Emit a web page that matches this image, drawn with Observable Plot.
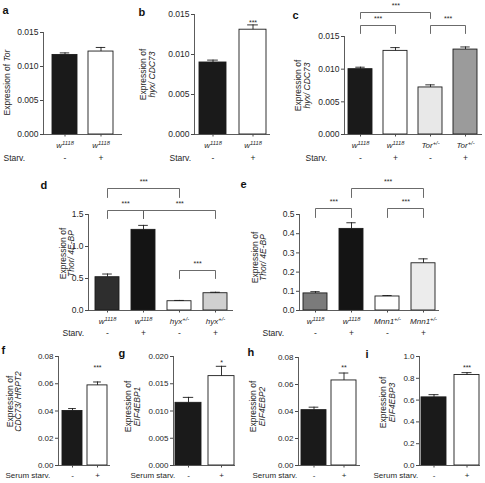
<!DOCTYPE html>
<html><head><meta charset="utf-8">
<script src="https://cdn.jsdelivr.net/npm/d3@7"></script>
<script src="https://cdn.jsdelivr.net/npm/@observablehq/plot@0.6"></script>
<style>
html,body{margin:0;padding:0;background:#fff;}
#fig{position:relative;width:485px;height:483px;overflow:hidden;background:#fff;}
#fig svg{position:absolute;overflow:visible;}
</style></head><body><div id="fig"></div>
<script>
// ---------- DATA ----------
// a
const aGenotype = ["w1118", "w1118"];
const aStarv = ["-", "+"];
const aValues = [0.0117, 0.0122];
const aSem = [0.0003, 0.0006];
const aTicks = [0, 0.005, 0.010, 0.015];
// b
const bGenotype = ["w1118", "w1118"];
const bStarv = ["-", "+"];
const bValues = [0.0090, 0.0131];
const bSem = [0.0003, 0.0006];
const bStars = ["", "***"];
const bTicks = [0, 0.005, 0.010, 0.015];
// c
const cGenotype = ["w1118", "w1118", "Tor+/-", "Tor+/-"];
const cStarv = ["-", "+", "-", "+"];
const cValues = [0.0100, 0.0128, 0.0072, 0.0130];
const cSem = [0.0003, 0.0005, 0.0004, 0.0004];
const cTicks = [0, 0.005, 0.010, 0.015];
const cBrackets = [{from: 0, to: 2, tier: "hi", label: "***"}, {from: 0, to: 1, tier: "lo", label: "***"}, {from: 2, to: 3, tier: "lo", label: "***"}];
// d
const dGenotype = ["w1118", "w1118", "hyx+/-", "hyx+/-"];
const dStarv = ["-", "+", "-", "+"];
const dValues = [0.52, 1.26, 0.145, 0.27];
const dSem = [0.05, 0.07, 0.012, 0.015];
const dTicks = [0, 0.5, 1.0, 1.5];
const dBrackets = [{from: 0, to: 2, tier: "hi", label: "***"}, {from: 0, to: 1, tier: "mid", label: "***"}, {from: 1, to: 3, tier: "mid", label: "***"}, {from: 2, to: 3, tier: "low", label: "***"}];
// e
const eGenotype = ["w1118", "w1118", "Mnn1+/-", "Mnn1+/-"];
const eStarv = ["-", "+", "-", "+"];
const eValues = [0.089, 0.425, 0.073, 0.246];
const eSem = [0.009, 0.032, 0.005, 0.023];
const eTicks = [0, 0.1, 0.2, 0.3, 0.4, 0.5];
const eBrackets = [{from: 0, to: 1, tier: "mid", label: "***"}, {from: 1, to: 3, tier: "hi", label: "***"}, {from: 2, to: 3, tier: "mid", label: "***"}];
// f
const fStarv = ["-", "+"];
const fValues = [0.040, 0.0588];
const fSem = [0.0018, 0.0025];
const fStars = ["", "***"];
const fTicks = [0, 0.02, 0.04, 0.06, 0.08];
// g
const gStarv = ["-", "+"];
const gValues = [0.0115, 0.0164];
const gSem = [0.0010, 0.0018];
const gStars = ["", "*"];
const gTicks = [0, 0.005, 0.010, 0.015, 0.020];
// h
const hStarv = ["-", "+"];
const hValues = [0.041, 0.063];
const hSem = [0.0022, 0.0055];
const hStars = ["", "**"];
const hTicks = [0, 0.02, 0.04, 0.06, 0.08];
// i
const iStarv = ["-", "+"];
const iValues = [0.625, 0.83];
const iSem = [0.025, 0.022];
const iStars = ["", "***"];
const iTicks = [0, 0.2, 0.4, 0.6, 0.8, 1.0];

// ---------- STYLE ----------
const FONT = '"Liberation Sans", Arial, Helvetica, sans-serif';
const INK = "#1c1c1c", AXIS = "#4a4a4a", BRACKET = "#5a5a5a", TEXT = "#262626";
const BLACK = "#1a1a1a", WHITE = "#ffffff";
const f3 = d3.format(".3f"), f2 = d3.format(".2f"), f1 = d3.format(".1f");

// rich text: italic / superscript segments
const RICH = {
  "w1118": [["w", 0], ["1118", 1]],
  "Tor+/-": [["Tor", 0], ["+/-", 1]],
  "hyx+/-": [["hyx", 0], ["+/-", 1]],
  "Mnn1+/-": [["Mnn1", 0], ["+/-", 1]],
  "Expression of Tor": [["Expression of ", 2], ["Tor", 3]]
};
function richify(svg) {
  d3.select(svg).selectAll("text").each(function () {
    if (this.textContent === "") { this.remove(); return; }
    const segs = RICH[this.textContent];
    if (!segs) return;
    const t = d3.select(this);
    t.text(null);
    for (const [s, kind] of segs) {
      const ts = t.append("tspan").text(s);
      if (kind === 1) ts.attr("dy", "-0.42em").attr("font-size", "72%");
      if (kind === 3) ts.attr("font-style", "italic");
    }
  });
}

function panel(cfg) {
  const [L, T, W, H] = cfg.box;
  const [x0, x1, yTop, yBot] = cfg.frame;
  const n = cfg.values.length;
  const p = cfg.pad, o = cfg.outer;
  const step = (x1 - x0) / (n - p + 2 * o);
  const bw = step * (1 - p);
  const keys = cfg.values.map((_, i) => "k" + i);
  const data = keys.map((k, i) => ({
    k, v: cfg.values[i], top: cfg.values[i] + cfg.sem[i], fill: cfg.fills[i],
    gen: cfg.genotype ? cfg.genotype[i] : "", starv: cfg.starv[i],
    star: cfg.stars ? cfg.stars[i] : ""
  }));
  const toVal = py => cfg.yMax * (yBot - py) / (yBot - yTop);
  const midY = (yTop + yBot) / 2;
  const fs = cfg.fontSize || 8.5;
  const marks = [
    Plot.barY(data, {x: "k", y: "v", fill: d => d.fill, stroke: INK, strokeWidth: 0.9}),
    Plot.ruleX(data, {x: "k", y1: "v", y2: "top", stroke: INK, strokeWidth: 0.9}),
    Plot.tickY(data, {x: "k", y: "top", stroke: INK, strokeWidth: 0.9, insetLeft: bw * 0.3, insetRight: bw * 0.3}),
    Plot.ruleY([0], {stroke: AXIS, strokeWidth: 0.9}),
    Plot.frame({anchor: "left", stroke: AXIS, strokeWidth: 0.9}),
    Plot.axisY({ticks: cfg.ticks, tickFormat: cfg.fmt, tickSize: 3, tickPadding: 2, label: null, stroke: AXIS, fontSize: fs}),
    Plot.axisX({tickSize: 2.5, tickFormat: () => "", label: null, stroke: AXIS}),
    Plot.text(data, {x: "k", text: "starv", frameAnchor: "bottom", dy: cfg.starvY - yBot, fontSize: fs}),
    Plot.text([cfg.starvLabel], {text: d => d, frameAnchor: "bottom-left", dx: cfg.starvX - x0, dy: cfg.starvY - yBot, textAnchor: "start", fontSize: fs}),
    Plot.text([cfg.letter], {text: d => d, frameAnchor: "top-left", dx: cfg.letterPos[0] - x0, dy: cfg.letterPos[1] - yTop, textAnchor: "start", lineAnchor: "bottom", fontWeight: "bold", fontSize: 11, fill: "#111"})
  ];
  if (cfg.genotype) {
    marks.push(Plot.text(data, {x: "k", text: "gen", frameAnchor: "bottom", dy: cfg.catY - yBot, fontStyle: "italic", fontSize: 8}));
  }
  if (cfg.stars) {
    marks.push(Plot.text(data.filter(d => d.star), {x: "k", text: "star", frameAnchor: "top", dy: cfg.starY - yTop, fontSize: 7}));
  }
  cfg.ylabel.forEach((line, j) => {
    marks.push(Plot.text([line], {text: d => d, frameAnchor: "left", textAnchor: "middle", rotate: -90, dx: cfg.ylabelX[j] - x0, dy: cfg.ylabelY - midY, fontStyle: cfg.ylabelItalic[j] ? "italic" : "normal", fontSize: 8.5}));
  });
  if (cfg.brackets) {
    const pts = [];
    cfg.brackets.forEach((b, j) => {
      const [topPx, legPx] = cfg.tiers[b.tier];
      pts.push({z: j, k: keys[b.from], y: toVal(legPx)}, {z: j, k: keys[b.from], y: toVal(topPx)},
               {z: j, k: keys[b.to], y: toVal(topPx)}, {z: j, k: keys[b.to], y: toVal(legPx)});
      marks.push(Plot.text([b], {x: () => keys[b.from], y: () => toVal(topPx - 7), dx: (b.to - b.from) * step / 2, text: d => d.label, fontSize: 7}));
    });
    marks.push(Plot.line(pts, {x: "k", y: "y", z: "z", stroke: BRACKET, strokeWidth: 0.9}));
  }
  const svg = Plot.plot({
    width: W, height: H,
    marginLeft: x0 - L, marginRight: L + W - x1, marginTop: yTop - T, marginBottom: T + H - yBot,
    x: {domain: keys, paddingInner: p, paddingOuter: o},
    y: {domain: [0, cfg.yMax]},
    style: {fontFamily: FONT, fontSize: "8.5px", color: TEXT, background: "transparent", overflow: "visible"},
    marks
  });
  richify(svg);
  svg.style.left = L + "px";
  svg.style.top = T + "px";
  document.getElementById("fig").appendChild(svg);
}

// ---------- LAYOUT ----------
panel({letter: "a", box: [0, 0, 135, 170], frame: [43, 122, 32, 134], yMax: 0.015, ticks: aTicks, fmt: f3,
  pad: 0.3, outer: 0.22, genotype: aGenotype, starv: aStarv, values: aValues, sem: aSem, fills: [BLACK, WHITE],
  letterPos: [2, 13], ylabel: ["Expression of Tor"], ylabelItalic: [false], ylabelX: [7], ylabelY: 82,
  catY: 147, starvLabel: "Starv.", starvX: 3, starvY: 160});
panel({letter: "b", box: [135, 0, 155, 170], frame: [194, 270, 14, 134], yMax: 0.015, ticks: bTicks, fmt: f3,
  pad: 0.33, outer: 0.1, genotype: bGenotype, starv: bStarv, values: bValues, sem: bSem, fills: [BLACK, WHITE],
  stars: bStars, starY: 20,
  letterPos: [138, 15], ylabel: ["Expression of", "hyx/ CDC73"], ylabelItalic: [false, true], ylabelX: [143, 152], ylabelY: 74,
  catY: 147, starvLabel: "Starv.", starvX: 169, starvY: 160});
panel({letter: "c", box: [290, 0, 195, 170], frame: [344, 482, 36, 134], yMax: 0.015, ticks: cTicks, fmt: f3,
  pad: 0.31, outer: 0.11, genotype: cGenotype, starv: cStarv, values: cValues, sem: cSem,
  fills: [BLACK, WHITE, "#e8e8e8", "#9b9b9b"],
  brackets: cBrackets, tiers: {hi: [12, 18], lo: [25, 33]},
  letterPos: [292, 18], ylabel: ["Expression of", "hyx/ CDC73"], ylabelItalic: [false, true], ylabelX: [298, 307], ylabelY: 85,
  catY: 147, starvLabel: "Starv.", starvX: 305, starvY: 160});
panel({letter: "d", box: [0, 170, 240, 175], frame: [88, 233, 214, 310], yMax: 1.5, ticks: dTicks, fmt: f1,
  pad: 0.34, outer: 0.17, genotype: dGenotype, starv: dStarv, values: dValues, sem: dSem,
  fills: ["#2e2e2e", "#141414", WHITE, "#d0d0d0"],
  brackets: dBrackets, tiers: {hi: [188, 197], mid: [210, 218], low: [270, 278]},
  letterPos: [40, 188], ylabel: ["Expression of", "Thor/ 4E-BP"], ylabelItalic: [false, true], ylabelX: [63, 71], ylabelY: 253,
  catY: 323, starvLabel: "Starv.", starvX: 62, starvY: 335});
panel({letter: "e", box: [240, 170, 245, 175], frame: [299, 439, 214, 310], yMax: 0.5, ticks: eTicks, fmt: f1,
  pad: 0.33, outer: 0.08, genotype: eGenotype, starv: eStarv, values: eValues, sem: eSem,
  fills: ["#7b7b7b", "#141414", WHITE, "#ececec"],
  brackets: eBrackets, tiers: {hi: [188, 197], mid: [208, 217]},
  letterPos: [240, 187], ylabel: ["Expression of", "Thor/ 4E-BP"], ylabelItalic: [false, true], ylabelX: [255, 263], ylabelY: 257,
  catY: 323, starvLabel: "Starv.", starvX: 262, starvY: 335});
panel({letter: "f", box: [0, 345, 115, 138], frame: [58, 110, 356, 465], yMax: 0.08, ticks: fTicks, fmt: f2, fontSize: 8,
  pad: 0.2, outer: 0.12, starv: fStarv, values: fValues, sem: fSem, fills: [BLACK, WHITE],
  stars: fStars, starY: 365,
  letterPos: [1, 353], ylabel: ["Expression of", "CDC73/ HRPT2"], ylabelItalic: [false, true], ylabelX: [10, 18], ylabelY: 401,
  starvLabel: "Serum starv.", starvX: 5, starvY: 477});
panel({letter: "g", box: [115, 345, 125, 138], frame: [173, 235, 356, 465], yMax: 0.02, ticks: gTicks, fmt: f3, fontSize: 8,
  pad: 0.22, outer: 0.04, starv: gStarv, values: gValues, sem: gSem, fills: [BLACK, WHITE],
  stars: gStars, starY: 360,
  letterPos: [118, 356], ylabel: ["Expression of", "EIF4EBP1"], ylabelItalic: [false, true], ylabelX: [128, 137], ylabelY: 406,
  starvLabel: "Serum starv.", starvX: 130, starvY: 477});
panel({letter: "h", box: [240, 345, 120, 138], frame: [298, 360, 357, 465], yMax: 0.08, ticks: hTicks, fmt: f2, fontSize: 8,
  pad: 0.16, outer: 0.1, starv: hStarv, values: hValues, sem: hSem, fills: [BLACK, WHITE],
  stars: hStars, starY: 365,
  letterPos: [247, 355], ylabel: ["Expression of", "EIF4EBP2"], ylabelItalic: [false, true], ylabelX: [253, 262], ylabelY: 406,
  starvLabel: "Serum starv.", starvX: 252, starvY: 477});
panel({letter: "i", box: [360, 345, 125, 138], frame: [419, 480, 356, 465], yMax: 1.0, ticks: iTicks, fmt: f1, fontSize: 8,
  pad: 0.25, outer: 0.04, starv: iStarv, values: iValues, sem: iSem, fills: [BLACK, WHITE],
  stars: iStars, starY: 365,
  letterPos: [365, 357], ylabel: ["Expression of", "EIF4EBP3"], ylabelItalic: [false, true], ylabelX: [383, 392], ylabelY: 402,
  starvLabel: "Serum starv.", starvX: 373, starvY: 477});
</script>
</body></html>
